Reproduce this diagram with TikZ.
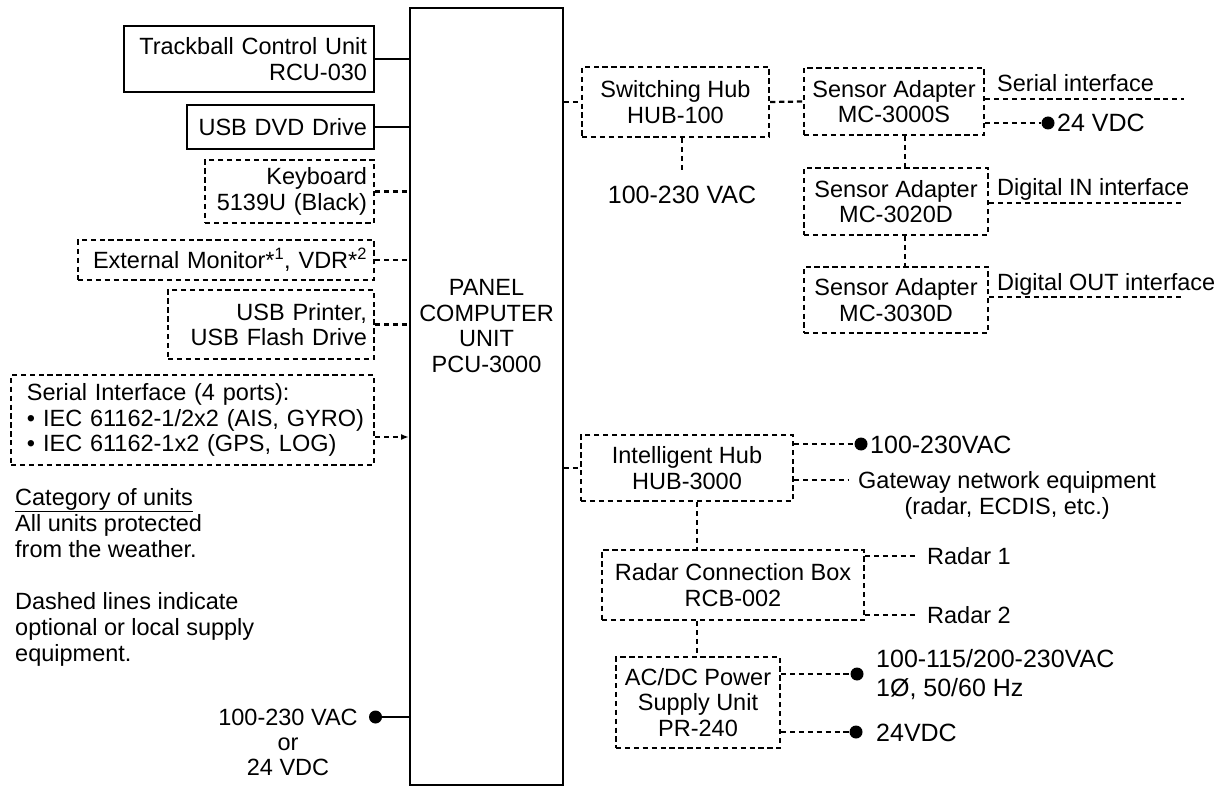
\documentclass[tikz,border=0pt]{standalone}
\usepackage{fontspec}
\setmainfont{Liberation Sans}
\usetikzlibrary{arrows.meta}
\begin{document}
\begin{tikzpicture}[x=1pt,y=-1pt,
    font=\fontsize{23.5}{25.5}\selectfont,
    unit/.style={draw,line width=2.6pt,inner xsep=7pt,align=right},
    optunit/.style={draw,line width=2.2pt,dash pattern=on 5.3pt off 3.6pt,inner xsep=7pt,align=center},
    wire/.style={line width=2pt},
    optwire/.style={line width=2.2pt,dash pattern=on 5.3pt off 3.6pt},
    lbl/.style={inner sep=0pt},
    pwr/.style={inner sep=0pt,font=\fontsize{25}{27}\selectfont},
    dot/.style={circle,fill,inner sep=0pt,minimum size=13pt}]
            \useasboundingbox (0,0) rectangle (1229,786);
            \node[draw,line width=2pt,minimum width=153pt,minimum height=777pt] (pcu) at (486.5,396.5){};
            \node[lbl,align=center] (pcutxt) at (486.5,326) {PANEL\\COMPUTER\\UNIT\\PCU-3000};
            \node[unit,text width=236pt,minimum height=66pt] (rcu) at (249,59) {Trackball Control Unit\\RCU-030};
            \node[unit,text width=173pt,minimum height=44pt] (dvd) at (280.5,127) {USB DVD Drive};
            \node[optunit,align=right,text width=155pt,minimum height=63pt] (kbd) at (289.5,191.5) {Keyboard\\5139U (Black)};
            \node[optunit,align=right,text width=282pt,minimum height=40pt] (mon) at (226,260) {External Monitor*\textsuperscript{1}, VDR*\textsuperscript{2}};
            \node[optunit,align=right,text width=192pt,minimum height=69pt] (usb) at (271,324.5) {USB Printer,\\USB Flash Drive};
            \node[optunit,align=left,text width=349pt,minimum height=90pt] (ser) at (192.5,420) {\mbox{\hspace*{9pt}Serial Interface (4 ports):}\\\mbox{\hspace*{9pt}\textbullet\ IEC 61162-1/2x2 (AIS, GYRO)}\\\mbox{\hspace*{9pt}\textbullet\ IEC 61162-1x2 (GPS, LOG)}};
            \draw[wire] (rcu.east) -- (rcu.east -| pcu.west);
            \draw[wire] (dvd.east) -- (dvd.east -| pcu.west);
            \draw[optwire] (kbd.east) -- (kbd.east -| pcu.west);
            \draw[optwire] (mon.east) -- (mon.east -| pcu.west);
            \draw[optwire] (usb.east) -- (usb.east -| pcu.west);
            \draw[optwire,-{Latex[length=8pt,width=6pt]}] ([yshift=-17pt]ser.east) -- ([yshift=-17pt]ser.east -| pcu.west);
            \node[lbl,anchor=north west,align=left,font=\fontsize{23.5}{26}\selectfont] (notes) at (15,488) {\underline{Category of units}\\All units protected\\from the weather.\\[26pt]Dashed lines indicate\\optional or local supply\\equipment.};
            \node[lbl,anchor=north,align=center,font=\fontsize{23.5}{25}\selectfont] (mains) at (288,708.5) {100-230 VAC\\or\\24 VDC};
            \node[dot] (mainsdot) at (375.5,717){};
            \draw[wire] (mainsdot) -- (mainsdot -| pcu.west);
            \node[optunit,minimum width=187pt,minimum height=70pt] (hub) at (675.5,102) {Switching Hub\\HUB-100};
            \draw[optwire] (hub.west -| pcu.east) -- (hub.west);
            \coordinate (hubac) at (682,172);
            \draw[optwire] (hub.south -| hubac) -- (hubac);
            \node[pwr,anchor=north] (hubactxt) at (682,186) {100-230 VAC};
            \node[optunit,minimum width=180pt,minimum height=67pt] (sa1) at (894,101.5) {Sensor Adapter\\MC-3000S};
            \draw[optwire] (hub.east) -- (sa1.west);
            \coordinate (serend) at (1184,99);
            \draw[optwire] (sa1.east |- serend) -- (serend);
            \node[lbl,anchor=base west] (sertxt) at (997,91.5) {Serial interface};
            \node[dot] (sadot) at (1048,123){};
            \draw[optwire] (sa1.east |- sadot) -- (sadot);
            \node[pwr,anchor=base west] (satxt) at (1057,132) {24 VDC};
            \node[optunit,minimum width=184pt,minimum height=67pt] (sa2) at (896,201.5) {Sensor Adapter\\MC-3020D};
            \draw[optwire] ([xshift=11pt]sa1.south) -- ([xshift=11pt]sa1.south |- sa2.north);
            \coordinate (diend) at (1184,203);
            \draw[optwire] (sa2.east |- diend) -- (diend);
            \node[lbl,anchor=base west] (ditxt) at (997,195.5) {Digital IN interface};
            \node[optunit,minimum width=184pt,minimum height=66pt] (sa3) at (896,300) {Sensor Adapter\\MC-3030D};
            \draw[optwire] ([xshift=9pt]sa2.south) -- ([xshift=9pt]sa2.south |- sa3.north);
            \coordinate (doend) at (1184,297);
            \draw[optwire] (sa3.east |- doend) -- (doend);
            \node[lbl,anchor=base west] (dotxt) at (997,290.5) {Digital OUT interface};
            \node[optunit,minimum width=212pt,minimum height=66pt] (ihub) at (687,468) {Intelligent Hub\\HUB-3000};
            \draw[optwire] (ihub.west -| pcu.east) -- (ihub.west);
            \node[dot] (ihubdot) at (861,444){};
            \draw[optwire] (ihub.east |- ihubdot) -- (ihubdot);
            \node[pwr,anchor=base west] (ihubac) at (870,453) {100-230VAC};
            \coordinate (gwend) at (848,480);
            \draw[optwire] (ihub.east |- gwend) -- (gwend);
            \node[lbl,anchor=north west,align=center] (gwtxt) at (858,471.5) {Gateway network equipment\\(radar, ECDIS, etc.)};
            \node[optunit,minimum width=262pt,minimum height=70pt] (rcb) at (733,585) {Radar Connection Box\\RCB-002};
            \draw[optwire] ([xshift=10pt]ihub.south) -- ([xshift=10pt]ihub.south |- rcb.north);
            \coordinate (r1end) at (918,556);
            \draw[optwire] (rcb.east |- r1end) -- (r1end);
            \node[lbl,anchor=base west] (r1txt) at (927,564.5) {Radar 1};
            \coordinate (r2end) at (918,615);
            \draw[optwire] (rcb.east |- r2end) -- (r2end);
            \node[lbl,anchor=base west] (r2txt) at (927,623.5) {Radar 2};
            \node[optunit,minimum width=164pt,minimum height=91pt] (psu) at (698,702.5) {AC/DC Power\\Supply Unit\\PR-240};
            \draw[optwire] ([xshift=-36pt]rcb.south) -- ([xshift=-36pt]rcb.south |- psu.north);
            \node[dot] (acdot) at (857,674){};
            \draw[optwire] (psu.east |- acdot) -- (acdot);
            \node[pwr,anchor=base west] (actxt) at (876,667) {100-115/200-230VAC};
            \node[pwr,anchor=base west] (phtxt) at (876,696) {1Ø, 50/60 Hz};
            \node[dot] (dcdot) at (856,732){};
            \draw[optwire] (psu.east |- dcdot) -- (dcdot);
            \node[pwr,anchor=base west] (dctxt) at (876,741) {24VDC};
        \end{tikzpicture}
\end{document}
